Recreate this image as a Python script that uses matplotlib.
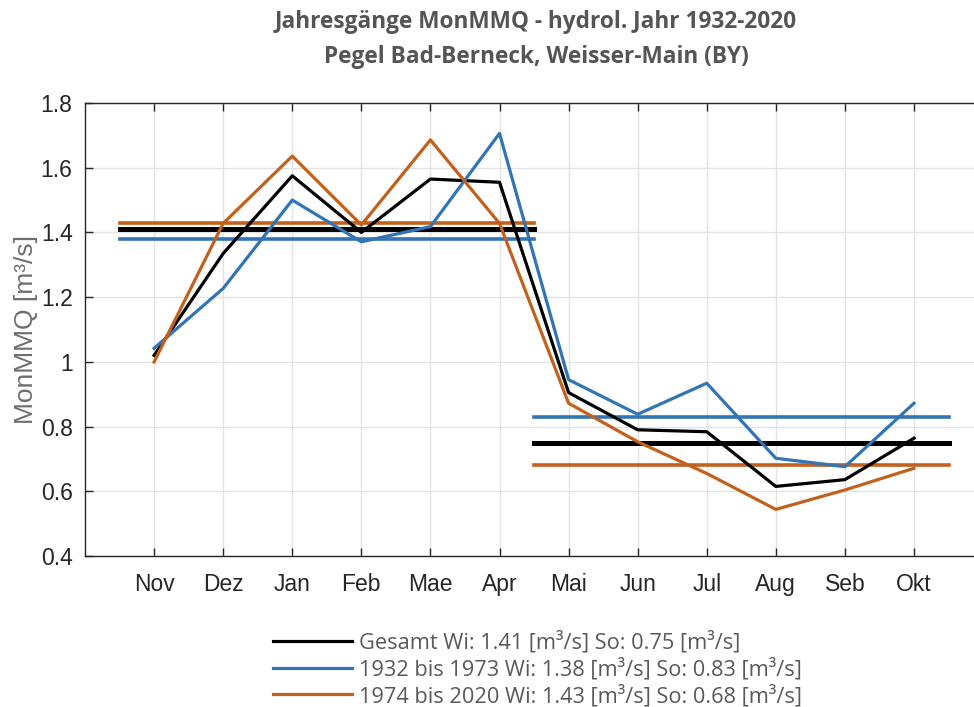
import matplotlib
matplotlib.use('Agg')
import matplotlib.pyplot as plt

# data
months = ['Nov', 'Dez', 'Jan', 'Feb', 'Mae', 'Apr', 'Mai', 'Jun', 'Jul', 'Aug', 'Seb', 'Okt']
gesamt = [1.02, 1.335, 1.575, 1.40, 1.565, 1.555, 0.905, 0.79, 0.784, 0.615, 0.636, 0.764]
per1 = [1.042, 1.227, 1.50, 1.371, 1.418, 1.706, 0.945, 0.838, 0.934, 0.702, 0.676, 0.872]
per2 = [1.0, 1.428, 1.636, 1.423, 1.686, 1.428, 0.872, 0.753, 0.655, 0.544, 0.604, 0.671]
# winter / summer means
wi = [1.41, 1.38, 1.43]
so = [0.75, 0.83, 0.68]
labels = ['Gesamt Wi: 1.41 [m³/s] So: 0.75 [m³/s]',
          '1932 bis 1973 Wi: 1.38 [m³/s] So: 0.83 [m³/s]',
          '1974 bis 2020 Wi: 1.43 [m³/s] So: 0.68 [m³/s]']

colors = ['black', '#3274b5', '#c2601c']
mean_lw = [3.6, 2.6, 2.6]

fig = plt.figure(figsize=(9.74, 7.07), dpi=100)
ax = fig.add_axes([0.0873, 0.2136, 0.922, 0.6407])

x = list(range(1, 13))
handles = []
for series, c, w, s, lw, lab in zip([gesamt, per1, per2], colors, wi, so, mean_lw, labels):
    h, = ax.plot(x, series, color=c, linewidth=2.3, label=lab, zorder=3)
    handles.append(h)
    ax.plot([0.5, 6.5], [w, w], color=c, linewidth=lw, zorder=2)
    ax.plot([6.5, 12.5], [s, s], color=c, linewidth=lw, zorder=2)

ax.set_xlim(0, 13)
ax.set_ylim(0.4, 1.8)
ax.set_xticks(x)
ax.set_xticklabels(months)
ax.set_yticks([0.4, 0.6, 0.8, 1.0, 1.2, 1.4, 1.6, 1.8])
ax.set_yticklabels(['0.4', '0.6', '0.8', '1', '1.2', '1.4', '1.6', '1.8'])
ax.tick_params(direction='in', top=True, right=True, length=6, width=1,
               colors='#262626', labelsize=16.5, pad=9)
ax.tick_params(axis='x', pad=12)
for sp in ax.spines.values():
    sp.set_color('#262626')
    sp.set_linewidth(1)
ax.grid(True, color='#e3e3e3', linewidth=1)
ax.set_axisbelow(True)
for t in ax.get_xticklabels() + ax.get_yticklabels():
    t.set_family('Liberation Sans')
ax.set_ylabel('MonMMQ [m³/s]', fontsize=19, color='#6e6e6e', family='Liberation Sans', labelpad=2)

fig.text(0.5503, 0.969, 'Jahresgänge MonMMQ - hydrol. Jahr 1932-2020', ha='center', va='center',
         fontsize=16.3, fontweight='bold', color='#555555', family='Open Sans')
fig.text(0.5503, 0.919, 'Pegel Bad-Berneck, Weisser-Main (BY)', ha='center', va='center',
         fontsize=16.3, fontweight='bold', color='#555555', family='Open Sans')

leg = fig.legend(handles=handles, loc='center left', bbox_to_anchor=(0.2803, 1 - 669 / 707),
                 frameon=False, borderpad=0, borderaxespad=0,
                 handlelength=3.6, handletextpad=0.35, labelspacing=0.2,
                 prop={'family': 'Open Sans', 'size': 15.7})
for t in leg.get_texts():
    t.set_color('#595959')

fig.savefig('out.png', dpi=100)
